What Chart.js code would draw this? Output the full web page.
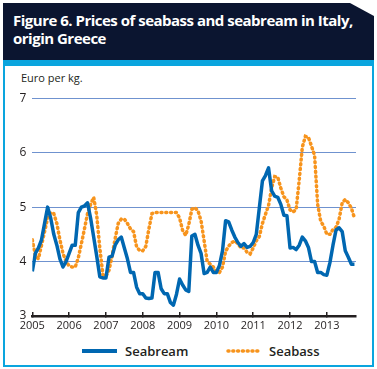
<!DOCTYPE html>
<html>
<head>
<meta charset="utf-8">
<script src="https://cdn.jsdelivr.net/npm/chart.js@4.4.0/dist/chart.umd.min.js"></script>
<style>
body { margin: 0; width: 377px; height: 369px; background: #fff; position: relative; overflow: hidden; font-family: "Open Sans", sans-serif; color: #231f20; }
#head { position: absolute; left: 3px; top: 3px; width: 371px; height: 57px; background: #0b1530;
        clip-path: polygon(0 0, 347px 0, 371px 13px, 371px 100%, 0 100%); }
#head h1 { margin: 0; position: absolute; left: 10px; top: 8px; color: #fff; font-size: 15px; font-weight: 700; line-height: 18px; letter-spacing: -0.5px; }
#stripe { position: absolute; left: 3px; top: 60px; width: 371px; height: 6px; background: #0aa5de; }
#box { position: absolute; left: 3px; top: 66px; width: 367px; height: 299px; border: 2px solid #0aa5de; border-top: none; }
#unit { position: absolute; left: 21px; top: 70px; font-size: 11px; }
#chart { position: absolute; left: 5px; top: 85px; }
.lg { position: absolute; top: 342px; font-size: 13px; font-weight: 600; line-height: 18px; }
.sw { position: absolute; top: 349px; }
</style>
</head>
<body>
<div id="head"><h1>Figure 6. Prices of seabass and seabream in Italy,<br>origin Greece</h1></div>
<div id="stripe"></div>
<div id="box"></div>
<div id="unit">Euro per kg.</div>
<canvas id="chart" width="360" height="255"></canvas>
<svg class="sw" style="left:82px" width="36" height="4"><line x1="0" y1="2" x2="35" y2="2" stroke="#0067b1" stroke-width="4"/></svg>
<div class="lg" style="left:125px">Seabream</div>
<svg class="sw" style="left:226px" width="36" height="4"><line x1="2" y1="2" x2="34" y2="2" stroke="#f7941d" stroke-width="3.5" stroke-linecap="round" stroke-dasharray="1,3.8"/></svg>
<div class="lg" style="left:269px">Seabass</div>

<script>
// monthly prices, Jan 2005 .. Oct 2013
const years = ['2005', '2006', '2007', '2008', '2009', '2010', '2011', '2012', '2013'];
const yTicks = [3, 4, 5, 6, 7];

const seabream = [
    3.82, 4.15, 4.25, 4.4, 4.7, 5.0, 4.8, 4.5, 4.3, 4.05, 3.9, 4.0,
    4.15, 4.3, 4.3, 4.9, 5.0, 5.02, 5.08, 4.8, 4.45, 4.1, 3.72, 3.7,
    3.7, 4.08, 4.1, 4.3, 4.4, 4.45, 4.25, 4.05, 3.8, 3.8, 3.53, 3.41,
    3.41, 3.33, 3.32, 3.33, 3.8, 3.8, 3.5, 3.41, 3.41, 3.25, 3.2, 3.4,
    3.68, 3.57, 3.48, 3.45, 4.47, 4.5, 4.3, 4.15, 3.78, 3.8, 3.9, 3.8,
    3.8, 3.93, 4.2, 4.75, 4.73, 4.58, 4.45, 4.35, 4.28, 4.33, 4.26, 4.28,
    4.35, 4.5, 4.99, 5.48, 5.58, 5.72, 5.3, 5.2, 5.18, 5.05, 4.85, 4.84,
    4.25, 4.26, 4.22, 4.3, 4.45, 4.38, 4.26, 4.0, 4.0, 3.8, 3.8, 3.76,
    3.75, 3.98, 4.3, 4.58, 4.62, 4.55, 4.2, 4.08, 3.95, 3.95
];
const seabass = [
    4.4, 4.1, 4.05, 4.3, 4.55, 4.8, 4.9, 4.88, 4.7, 4.4, 4.15, 4.0,
    3.92, 3.9, 3.9, 4.07, 4.33, 4.6, 4.88, 5.05, 5.18, 4.85, 4.25, 3.76,
    3.73, 3.84, 4.1, 4.42, 4.7, 4.78, 4.78, 4.7, 4.6, 4.55, 4.27, 4.2,
    4.2, 4.28, 4.6, 4.88, 4.9, 4.9, 4.9, 4.9, 4.9, 4.9, 4.9, 4.9,
    4.8, 4.57, 4.48, 4.68, 4.96, 4.99, 4.93, 4.75, 4.38, 4.0, 3.95, 3.9,
    3.81, 3.8, 3.9, 4.19, 4.28, 4.35, 4.38, 4.33, 4.25, 4.25, 4.17, 4.14,
    4.25, 4.38, 4.46, 4.7, 4.87, 5.03, 5.35, 5.56, 5.55, 5.35, 5.19, 5.13,
    4.95, 4.91, 4.96, 5.5, 6.1, 6.3, 6.28, 6.12, 5.95, 5.05, 4.74, 4.65,
    4.5, 4.5, 4.59, 4.63, 4.78, 5.08, 5.14, 5.08, 4.98, 4.8
];

const tickFont = { family: 'Open Sans', size: 11 };
const ctx = document.getElementById('chart').getContext('2d');

new Chart(ctx, {
    type: 'line',
    data: {
        datasets: [
            {
                label: 'Seabream',
                data: seabream.map((v, i) => ({ x: i, y: v })),
                borderColor: '#0067b1',
                borderWidth: 3.5,
                borderJoinStyle: 'round',
                pointRadius: 0
            },
            {
                label: 'Seabass',
                data: seabass.map((v, i) => ({ x: i, y: v })),
                borderColor: '#f7941d',
                borderWidth: 3.5,
                borderCapStyle: 'round',
                borderDash: [1, 3.8],
                pointRadius: 0
            }
        ]
    },
    options: {
        responsive: false,
        animation: false,
        layout: { padding: { left: 0, right: 9, top: 11, bottom: 0 } },
        plugins: { legend: { display: false }, tooltip: { enabled: false } },
        scales: {
            x: {
                type: 'linear',
                min: 0,
                max: 105.5,
                afterBuildTicks: s => { s.ticks = years.map((y, i) => ({ value: i * 12 })); },
                afterFit: s => { s.height = 24; },
                ticks: {
                    callback: v => years[v / 12],
                    font: tickFont,
                    color: '#231f20',
                    padding: 7,
                    maxRotation: 0,
                    autoSkip: false
                },
                grid: { drawOnChartArea: false, drawTicks: true, tickLength: -4, color: '#231f20', lineWidth: 1.5 },
                border: { display: true, color: '#231f20', width: 2.5 }
            },
            y: {
                min: 3,
                max: 7,
                afterBuildTicks: s => { s.ticks = yTicks.map(v => ({ value: v })); },
                afterFit: s => { s.width = 27.3; },
                ticks: { font: { family: 'Open Sans', size: 12 }, color: '#231f20', padding: 6 },
                grid: {
                    drawTicks: false,
                    lineWidth: 1,
                    color: c => c.tick.value === 3 ? 'rgba(0,0,0,0)' : '#6f92cf'
                },
                border: { display: false }
            }
        }
    }
});
</script>
</body>
</html>
